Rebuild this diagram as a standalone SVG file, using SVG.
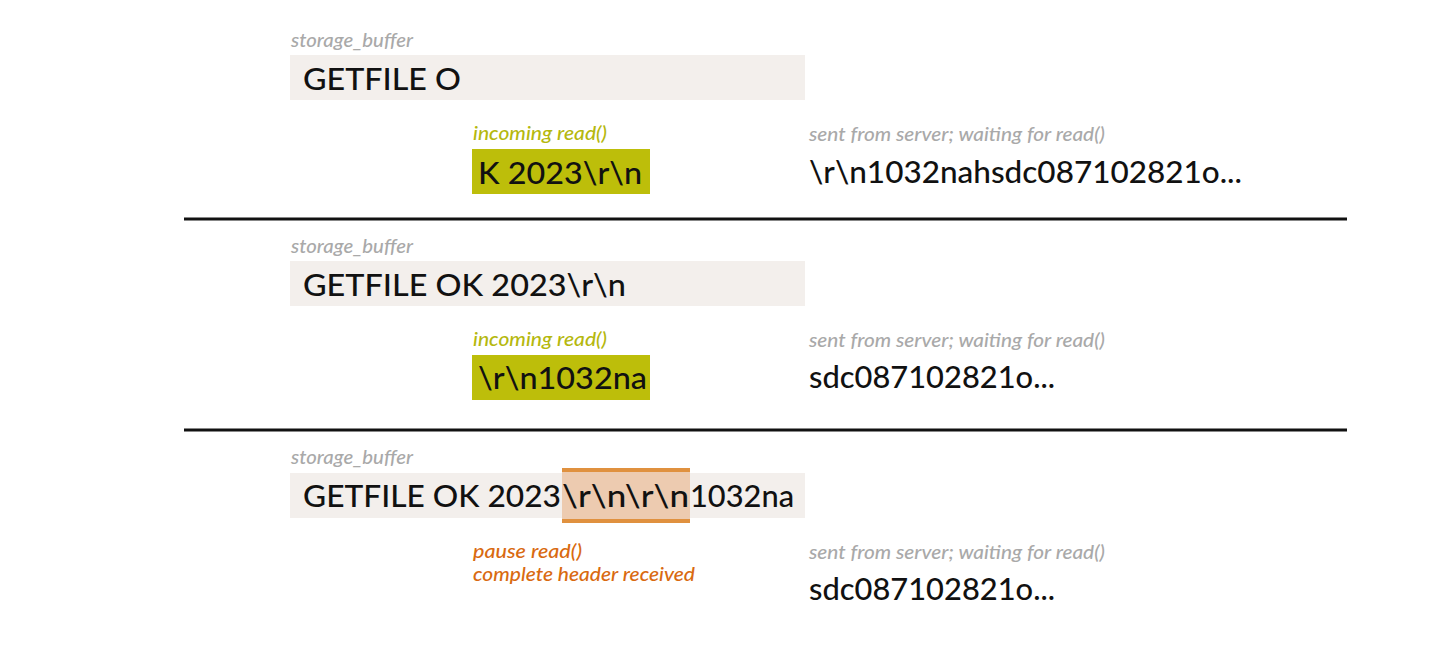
<svg xmlns="http://www.w3.org/2000/svg" width="1450" height="659" viewBox="0 0 1450 659">
<style>
.bg{fill:#ffffff}
.buf{fill:#f3efec}
.rd{fill:#bdbe0a}
.hl{fill:#edcbb0}
.bar{fill:#e0913f}
.lbl{font-family:"Lato","Liberation Sans",sans-serif;font-style:italic;font-size:19px;font-weight:500}
.gray{fill:#a9a9a9}
.olive{fill:#b5b80e}
.orange{fill:#d96a10}
.main{font-family:"Lato","Liberation Sans",sans-serif;font-size:31px;font-weight:500;fill:#111111}
.sep{stroke:#111111;stroke-width:3}
</style>
<rect class="bg" x="0" y="0" width="1450" height="659"/>
<g id="connectors">
<line class="sep" x1="184" y1="219" x2="1347" y2="219"/>
<line class="sep" x1="184" y1="430" x2="1347" y2="430"/>
</g>
<g id="panel1">
<text class="lbl gray" x="291" y="47" textLength="122" lengthAdjust="spacingAndGlyphs">storage_buffer</text>
<rect class="buf" x="290" y="55" width="515" height="45"/>
<text class="main" x="303" y="90" textLength="158" lengthAdjust="spacingAndGlyphs">GETFILE O</text>
<text class="lbl olive" x="473" y="140" textLength="134" lengthAdjust="spacingAndGlyphs">incoming read()</text>
<rect class="rd" x="472" y="149" width="178" height="45"/>
<text class="main" x="478" y="184" textLength="164" lengthAdjust="spacingAndGlyphs">K 2023\r\n</text>
<text class="lbl gray" x="809" y="141" textLength="296" lengthAdjust="spacingAndGlyphs">sent from server; waiting for read()</text>
<text class="main" x="809" y="183" textLength="433" lengthAdjust="spacingAndGlyphs">\r\n1032nahsdc087102821o...</text>
</g>
<g id="panel2">
<text class="lbl gray" x="291" y="253" textLength="122" lengthAdjust="spacingAndGlyphs">storage_buffer</text>
<rect class="buf" x="290" y="261" width="515" height="45"/>
<text class="main" x="303" y="296" textLength="323" lengthAdjust="spacingAndGlyphs">GETFILE OK 2023\r\n</text>
<text class="lbl olive" x="473" y="346" textLength="134" lengthAdjust="spacingAndGlyphs">incoming read()</text>
<rect class="rd" x="472" y="355" width="178" height="45"/>
<text class="main" x="478" y="389" textLength="169" lengthAdjust="spacingAndGlyphs">\r\n1032na</text>
<text class="lbl gray" x="809" y="347" textLength="296" lengthAdjust="spacingAndGlyphs">sent from server; waiting for read()</text>
<text class="main" x="809" y="388" textLength="246" lengthAdjust="spacingAndGlyphs">sdc087102821o...</text>
</g>
<g id="panel3">
<text class="lbl gray" x="291" y="464" textLength="122" lengthAdjust="spacingAndGlyphs">storage_buffer</text>
<rect class="buf" x="290" y="473" width="515" height="45"/>
<rect class="hl" x="562" y="468" width="128" height="55"/>
<rect class="bar" x="562" y="468" width="128" height="4"/>
<rect class="bar" x="562" y="519" width="128" height="4"/>
<text class="main" y="507"><tspan x="303" textLength="258" lengthAdjust="spacingAndGlyphs">GETFILE OK 2023</tspan><tspan x="562" textLength="127" lengthAdjust="spacingAndGlyphs">\r\n\r\n</tspan><tspan x="690" textLength="104" lengthAdjust="spacingAndGlyphs">1032na</tspan></text>
<text class="lbl orange" x="473" y="558" textLength="109" lengthAdjust="spacingAndGlyphs">pause read()</text>
<text class="lbl orange" x="473" y="581" textLength="222" lengthAdjust="spacingAndGlyphs">complete header received</text>
<text class="lbl gray" x="809" y="559" textLength="296" lengthAdjust="spacingAndGlyphs">sent from server; waiting for read()</text>
<text class="main" x="809" y="600" textLength="246" lengthAdjust="spacingAndGlyphs">sdc087102821o...</text>
</g>
</svg>
